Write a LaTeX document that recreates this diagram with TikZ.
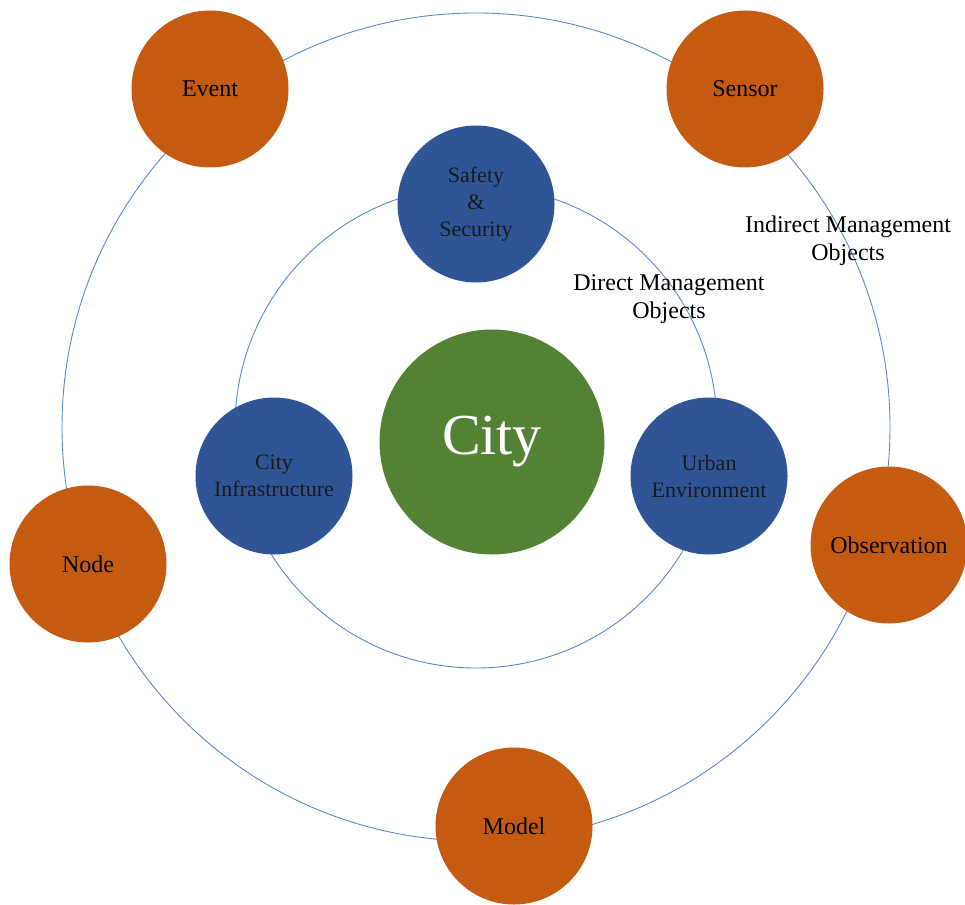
\documentclass[tikz,border=0pt]{standalone}
\usepackage{fontspec}
\setmainfont{Liberation Serif}
\definecolor{orangec}{HTML}{C55A11}
\definecolor{bluec}{HTML}{2F5597}
\definecolor{greenc}{HTML}{548235}
\definecolor{ringc}{HTML}{5A8AC6}
\tikzset{
  ring/.style={draw=ringc, line width=0.9pt},
  outernode/.style={circle, fill=orangec, minimum size=157pt, inner sep=0pt, align=center, text=black, font=\fontsize{24}{28}\selectfont},
  innernode/.style={circle, fill=bluec, minimum size=157pt, inner sep=0pt, align=center, text=black!90, font=\fontsize{22}{27}\selectfont},
  citynode/.style={circle, fill=greenc, minimum size=225pt, inner sep=0pt, text=white, font=\fontsize{58}{64}\selectfont},
  labeltext/.style={align=center, text=black, font=\fontsize{24}{28}\selectfont, inner sep=0pt}
}
\begin{document}
\begin{tikzpicture}[x=1pt, y=-1pt]
\useasboundingbox (0,0) rectangle (965,904);
\coordinate (centre) at (476,427);
\draw[ring] (centre) circle[radius=414pt];
\draw[ring] (centre) circle[radius=241pt];
\node[labeltext] (direct) at (669,299) {Direct Management\\Objects};
\node[labeltext] (indirect) at (848,241) {Indirect Management\\Objects};
\node[citynode] (city) at (492,442) {City};
\node[innernode] (safety) at (476,204) {Safety\\\&\\Security};
\node[innernode] (infra) at (274,476) {City\\Infrastructure};
\node[innernode] (urban) at (709,476) {Urban\\Environment};
\node[outernode] (event) at (210,89) {Event};
\node[outernode] (sensor) at (745,89) {Sensor};
\node[outernode] (node) at (88,564) {Node};
\node[outernode] (observation) at (889,545) {Observation};
\node[outernode] (model) at (514,826) {Model};
\end{tikzpicture}
\end{document}
